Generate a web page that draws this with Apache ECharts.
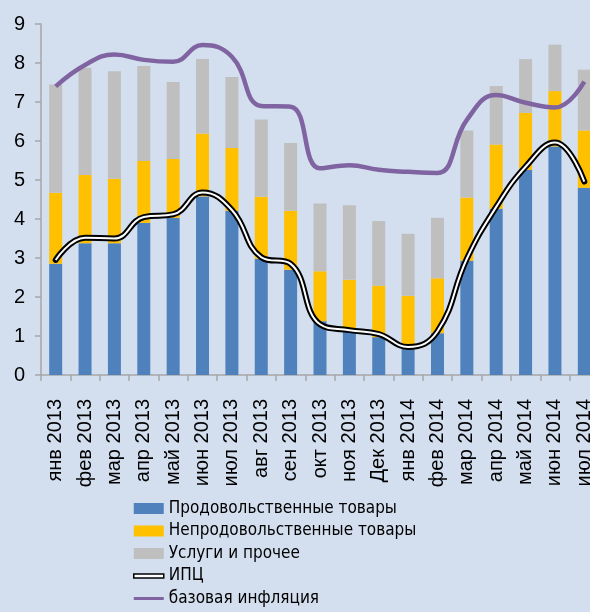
<!DOCTYPE html>
<html>
<head>
<meta charset="utf-8">
<script src="https://cdn.jsdelivr.net/npm/echarts@6/dist/echarts.min.js"></script>
<style>
html,body{margin:0;padding:0;background:#d3dfef;}
#c{width:590px;height:612px;}
</style>
</head>
<body>
<div id="c"></div>
<script>
const categories = ['янв 2013','фев 2013','мар 2013','апр 2013','май 2013','июн 2013','июл 2013','авг 2013','сен 2013','окт 2013','ноя 2013','Дек 2013','янв 2014','фев 2014','мар 2014','апр 2014','май 2014','июн 2014','июл 2014'];
const foodTop    = [2.85,3.38,3.38,3.90,4.03,4.58,4.21,2.98,2.70,1.38,1.11,0.97,0.68,1.07,2.93,4.26,5.26,5.86,4.80];
const nonfoodTop = [4.67,5.13,5.03,5.49,5.54,6.19,5.82,4.57,4.21,2.66,2.44,2.29,2.03,2.48,4.55,5.91,6.72,7.28,6.27];
const servTop    = [7.45,7.88,7.79,7.92,7.51,8.10,7.64,6.55,5.95,4.40,4.35,3.95,3.62,4.03,6.27,7.41,8.10,8.47,7.83];
const cpi  = [2.95,3.52,3.50,4.05,4.12,4.68,4.23,3.02,2.85,1.30,1.15,1.05,0.72,1.12,2.98,4.31,5.34,5.96,4.96];
const core = [7.40,7.95,8.22,8.08,8.03,8.46,8.16,6.90,6.88,5.30,5.38,5.26,5.21,5.18,6.54,7.18,6.98,6.86,7.52];
const yTicks = [0,1,2,3,4,5,6,7,8,9];

const names = ['Продовольственные товары','Непродовольственные товары','Услуги и прочее','ИПЦ','базовая инфляция'];
const r2 = v => Math.round(v*100)/100;
const food = foodTop.slice();
const nonfood = nonfoodTop.map((v,i)=>r2(v-foodTop[i]));
const serv = servTop.map((v,i)=>r2(v-nonfoodTop[i]));

const chart = echarts.init(document.getElementById('c'));
const font = 'Liberation Sans, Arial, sans-serif';
chart.setOption({
  backgroundColor:'#d3dfef',
  animation:false,
  grid:{left:41, top:24, width:558, height:351, containLabel:false, outerBoundsMode:'none'},
  legend:{
    orient:'vertical', left:128, top:495, height:140, itemWidth:30, itemHeight:11, itemGap:5.5,
    textStyle:{fontFamily:'Liberation Sans Narrow, Arial Narrow, DejaVu Sans Condensed, sans-serif', fontSize:17, color:'#000'},
    data:[
      {name:names[0], icon:'rect'},
      {name:names[1], icon:'rect'},
      {name:names[2], icon:'rect'},
      {name:names[3], icon:'path://M0,0L30,0L30,4L0,4Z', itemStyle:{color:'#fff', borderColor:'#000', borderWidth:1.5}},
      {name:names[4], icon:'path://M0,0L30,0L30,3L0,3Z', itemStyle:{color:'#8064a2'}}
    ]
  },
  xAxis:{
    type:'category', data:categories, boundaryGap:true,
    axisLine:{lineStyle:{color:'#a6a6a6', width:1.5}},
    axisTick:{show:true, interval:0, length:6, lineStyle:{color:'#a6a6a6', width:1.5}},
    axisLabel:{rotate:90, interval:0, margin:24, fontFamily:font, fontSize:20, color:'#000', hideOverlap:false}
  },
  yAxis:{
    type:'value', min:yTicks[0], max:yTicks[yTicks.length-1], interval:1,
    axisLine:{show:true, lineStyle:{color:'#a6a6a6', width:1.5}},
    axisTick:{show:true, length:6, lineStyle:{color:'#a6a6a6', width:1.5}},
    splitLine:{show:false},
    axisLabel:{margin:16, fontFamily:font, fontSize:20, color:'#000'}
  },
  series:[
    {name:names[0], type:'bar', stack:'s', data:food, barWidth:13, itemStyle:{color:'#4f81bd'}},
    {name:names[1], type:'bar', stack:'s', data:nonfood, barWidth:13, itemStyle:{color:'#ffc000'}},
    {name:names[2], type:'bar', stack:'s', data:serv, barWidth:13, itemStyle:{color:'#bfbfbf'}},
    {name:names[3], type:'line', data:cpi, smooth:0.45, symbol:'none', lineStyle:{color:'#000', width:6, cap:'round'}, itemStyle:{color:'#000'}, z:3},
    {name:'ИПЦ_inner', type:'line', data:cpi, smooth:0.45, symbol:'none', lineStyle:{color:'#fff', width:2}, z:4},
    {name:names[4], type:'line', data:core, smooth:0.45, symbol:'none', lineStyle:{color:'#8064a2', width:4.5}, itemStyle:{color:'#8064a2'}, z:5}
  ]
});
</script>
</body>
</html>
